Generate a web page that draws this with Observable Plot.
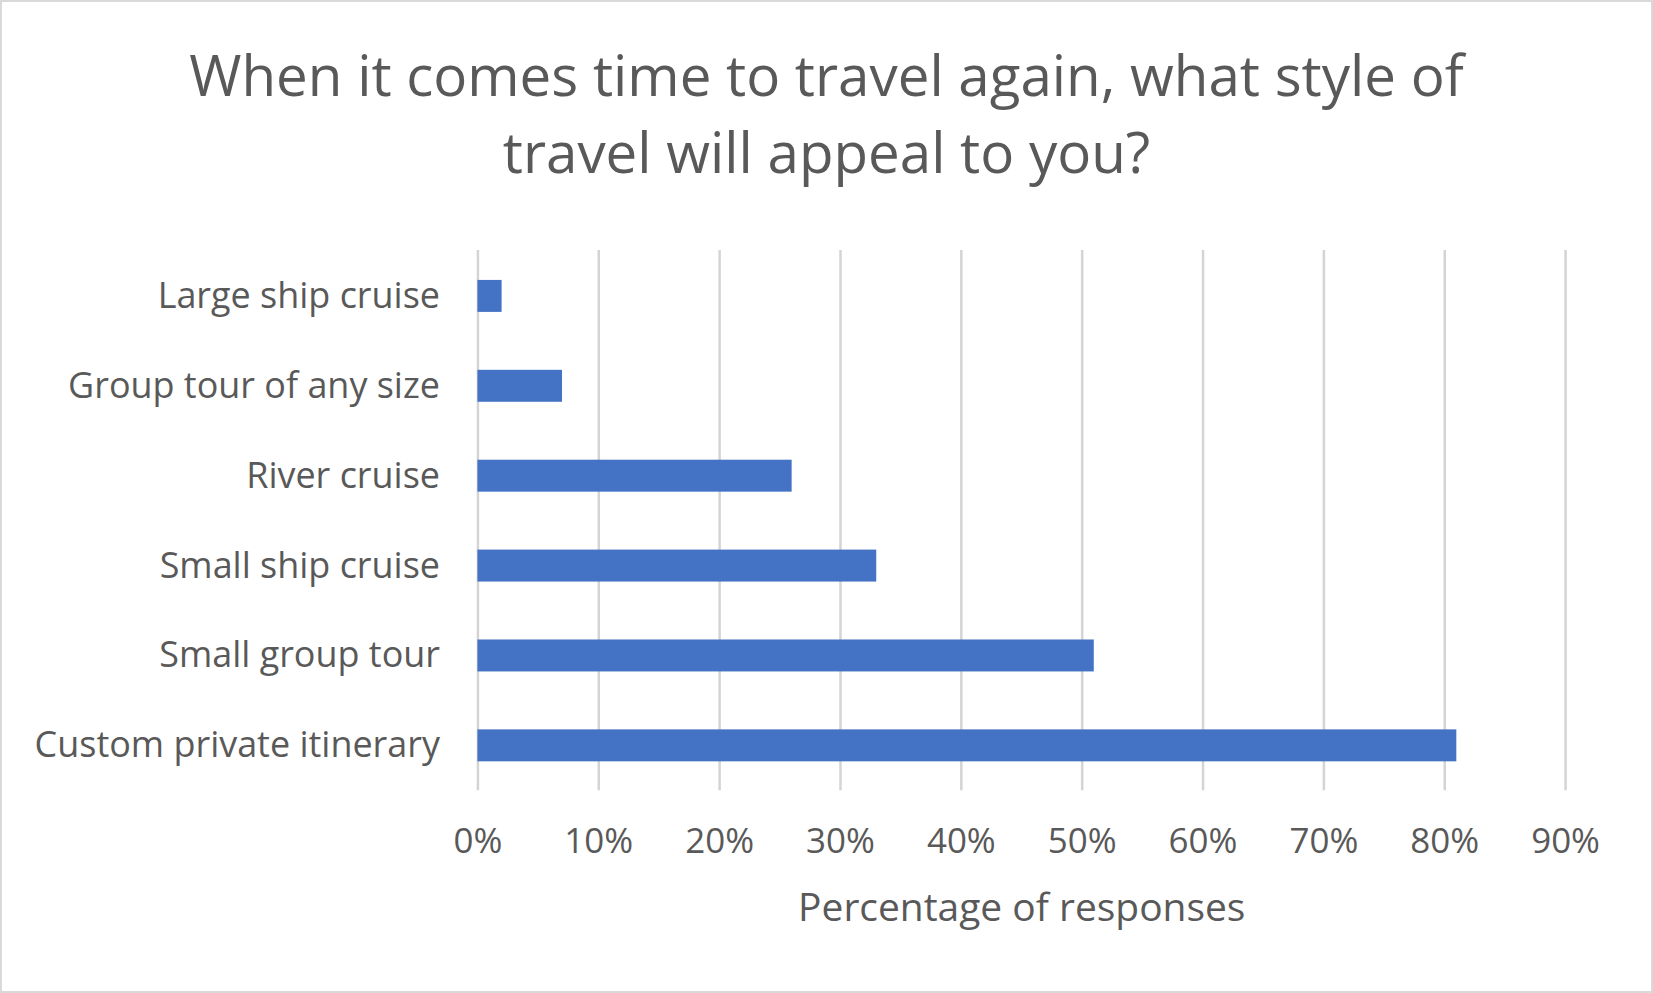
<!DOCTYPE html>
<html>
<head>
<meta charset="utf-8">
<script src="https://cdn.jsdelivr.net/npm/d3@7"></script>
<script src="https://cdn.jsdelivr.net/npm/@observablehq/plot@0.6"></script>
<style>
  html, body { margin: 0; padding: 0; background: #fff; }
  #frame { position: relative; width: 1653px; height: 993px; box-sizing: border-box; border: 2px solid #d9d9d9; background: #fff; overflow: hidden; font-family: "Open Sans", sans-serif; }
  #title { position: absolute; left: 0; top: 34px; width: 1653px; text-align: center; font-size: 56.5px; line-height: 77px; color: #595959; margin-left: -2px; }
  #chart { position: absolute; left: -2px; top: 218px; }
</style>
</head>
<body>
<div id="frame">
  <div id="title">When it comes time to travel again, what style of<br>travel will appeal to you?</div>
  <div id="chart"></div>
</div>
<script>
const categories = ["Large ship cruise", "Group tour of any size", "River cruise", "Small ship cruise", "Small group tour", "Custom private itinerary"];
const values = [2, 7, 26, 33, 51, 81];
const xTicks = [0, 10, 20, 30, 40, 50, 60, 70, 80, 90];
const xLabel = "Percentage of responses";

const data = categories.map((c, i) => ({category: c, value: values[i]}));

const svgHeight = 775;
const chart = Plot.plot({
  width: 1653,
  height: svgHeight,
  marginTop: 30,
  marginBottom: svgHeight - 571,
  marginLeft: 478,
  marginRight: 1653 - 1567,
  style: {fontFamily: "'Open Sans', sans-serif", color: "#595959", background: "transparent"},
  x: {domain: [0, 90], ticks: xTicks},
  y: {domain: categories, paddingInner: 0.645, paddingOuter: 0.3225},
  marks: [
    Plot.gridX(xTicks, {stroke: "#d4d4d4", strokeOpacity: 1, strokeWidth: 2.5}),
    Plot.barX(data, {x: "value", y: "category", fill: "#4472c4"}),
    Plot.axisX(xTicks, {tickSize: 0, tickPadding: 37, fontSize: 35, fill: "#595959", tickFormat: d => d + "%", label: null}),
    Plot.axisY({tickSize: 0, tickPadding: 38, fontSize: 36, fill: "#595959", label: null}),
    Plot.text([xLabel], {frameAnchor: "bottom", dy: 118, lineAnchor: "middle", fontSize: 39, fill: "#595959"})
  ]
});
document.getElementById("chart").appendChild(chart);
</script>
</body>
</html>
